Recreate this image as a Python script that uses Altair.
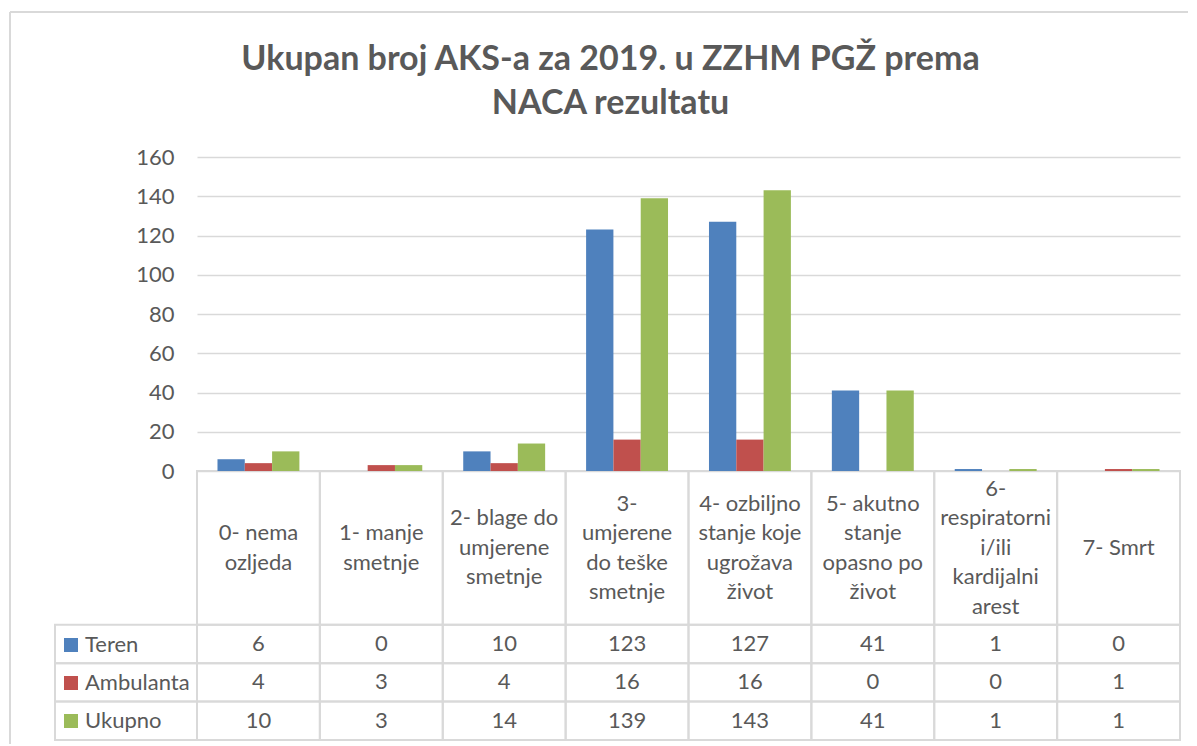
import altair as alt
import pandas as pd

# ---------------- data ----------------
categories = [
    "0- nema ozljeda",
    "1- manje smetnje",
    "2- blage do umjerene smetnje",
    "3- umjerene do teške smetnje",
    "4- ozbiljno stanje koje ugrožava život",
    "5- akutno stanje opasno po život",
    "6- respiratorni i/ili kardijalni arest",
    "7- Smrt",
]
category_labels = [
    "0- nema\nozljeda",
    "1- manje\nsmetnje",
    "2- blage do\numjerene\nsmetnje",
    "3-\numjerene\ndo teške\nsmetnje",
    "4- ozbiljno\nstanje koje\nugrožava\nživot",
    "5- akutno\nstanje\nopasno po\nživot",
    "6-\nrespiratorni\ni/ili\nkardijalni\narest",
    "7- Smrt",
]
series = ["Teren", "Ambulanta", "Ukupno"]
teren = [6, 0, 10, 123, 127, 41, 1, 0]
ambulanta = [4, 3, 4, 16, 16, 0, 0, 1]
ukupno = [10, 3, 14, 139, 143, 41, 1, 1]
colors = ["#4F81BD", "#C0504D", "#9BBB59"]
y_ticks = [0, 20, 40, 60, 80, 100, 120, 140, 160]
title_lines = ["Ukupan broj AKS-a za 2019. u ZZHM PGŽ prema", "NACA rezultatu"]

# ---------------- layout constants (pixels) ----------------
W = 983          # plot area width
PLOT_H = 314     # bar area height
H = 583          # bar area + data table
LEFT_COL = -142  # left edge of the legend column, relative to the plot area
TEXT = "#595959"
LINE = "#d9d9d9"
FONT = "Lato"
LINE_H = 29.5                      # header text line height (px)
ROW_PX = (H - PLOT_H) / 7.0        # one table row in px

values_by_series = {"Teren": teren, "Ambulanta": ambulanta, "Ukupno": ukupno}
rows = []
for si, s in enumerate(series):
    for ci, c in enumerate(categories):
        rows.append({"cat": c, "series": s, "value": values_by_series[s][ci],
                     "trow": 4.5 + si})
df = pd.DataFrame(rows)

# header cell text: block of lines centred in the header cell (rows 0..4)
n_lines = [lab.count("\n") + 1 for lab in category_labels]
header = pd.DataFrame({
    "cat": categories, "label": category_labels,
    "trow": [2 - (n - 1) / 2 * LINE_H / ROW_PX for n in n_lines],
})

# table cells (header cell + 3 data cells per category)
cells = pd.DataFrame(
    [{"cat": c, "t0": a, "t1": b} for c in categories for a, b in [(0, 4), (4, 5), (5, 6), (6, 7)]]
)
legend_cells = pd.DataFrame({"t0": [4, 5, 6], "t1": [5, 6, 7]})

x_scale = alt.Scale(domain=categories, paddingInner=0, paddingOuter=0)
t_scale = alt.Scale(domain=[0, 7], range=[PLOT_H, H])

bars = alt.Chart(df).mark_bar().encode(
    x=alt.X("cat:N", scale=x_scale, axis=None),
    xOffset=alt.XOffset("series:N",
                        scale=alt.Scale(domain=series, paddingInner=0, paddingOuter=0.75)),
    y=alt.Y("value:Q", scale=alt.Scale(domain=[0, 160], range=[PLOT_H, 0]),
            axis=alt.Axis(values=y_ticks, title=None, domain=False, ticks=False,
                          labelFont=FONT, labelFontSize=22, labelColor=TEXT,
                          labelPadding=23, grid=True, gridColor=LINE, gridWidth=1.5)),
    color=alt.Color("series:N",
                    scale=alt.Scale(domain=series, range=colors),
                    legend=alt.Legend(orient="none", legendX=-137, legendY=477,
                                      title=None, symbolType="square", symbolSize=196,
                                      symbolStrokeWidth=0, labelFont=FONT,
                                      labelFontSize=22, labelColor=TEXT,
                                      rowPadding=16, labelOffset=3, padding=0)),
)

cell_rects = alt.Chart(cells).mark_rect(
    fill="#ffffff", fillOpacity=0, stroke=LINE, strokeWidth=2
).encode(
    x=alt.X("cat:N", scale=x_scale, axis=None),
    y=alt.Y("t0:Q", scale=t_scale, axis=None),
    y2="t1",
)

legend_rects = alt.Chart(legend_cells).mark_rect(
    fill="#ffffff", fillOpacity=0, stroke=LINE, strokeWidth=2
).encode(
    x=alt.value(LEFT_COL), x2=alt.value(0),
    y=alt.Y("t0:Q", scale=t_scale, axis=None),
    y2="t1",
)

header_text = alt.Chart(header).mark_text(
    lineBreak="\n", lineHeight=LINE_H, font=FONT, fontSize=22, color=TEXT,
    baseline="middle", align="center"
).encode(
    x=alt.X("cat:N", scale=x_scale, axis=None),
    y=alt.Y("trow:Q", scale=t_scale, axis=None),
    text="label:N",
)

value_text = alt.Chart(df).mark_text(
    font=FONT, fontSize=22, color=TEXT, baseline="middle", align="center"
).encode(
    x=alt.X("cat:N", scale=x_scale, axis=None),
    y=alt.Y("trow:Q", scale=t_scale, axis=None),
    text="value:Q",
)

# outer chart-area frame (top and left edges; the others lie outside the page)
frame_top = alt.Chart(pd.DataFrame({"a": [0]})).mark_rule(color=LINE, strokeWidth=2).encode(
    x=alt.value(-187), x2=alt.value(W + 40), y=alt.value(-145),
)
frame_left = alt.Chart(pd.DataFrame({"a": [0]})).mark_rule(color=LINE, strokeWidth=2).encode(
    x=alt.value(-187), y=alt.value(-145), y2=alt.value(H + 30),
)

chart = alt.layer(
    frame_top, frame_left, cell_rects, legend_rects, bars, header_text, value_text
).resolve_scale(y="independent").properties(
    width=W, height=H,
    padding={"left": 189, "top": 149, "right": 8, "bottom": 4},
    autosize=alt.AutoSizeParams(type="none"),
    title=alt.TitleParams(text=title_lines, font=FONT, fontSize=34, fontWeight="bold",
                          color=TEXT, anchor="middle", dx=-78, offset=26, dy=136,
                          lineHeight=44),
).configure_view(strokeWidth=0)

chart.save("out.html", embed_options={"renderer": "svg", "actions": False})
